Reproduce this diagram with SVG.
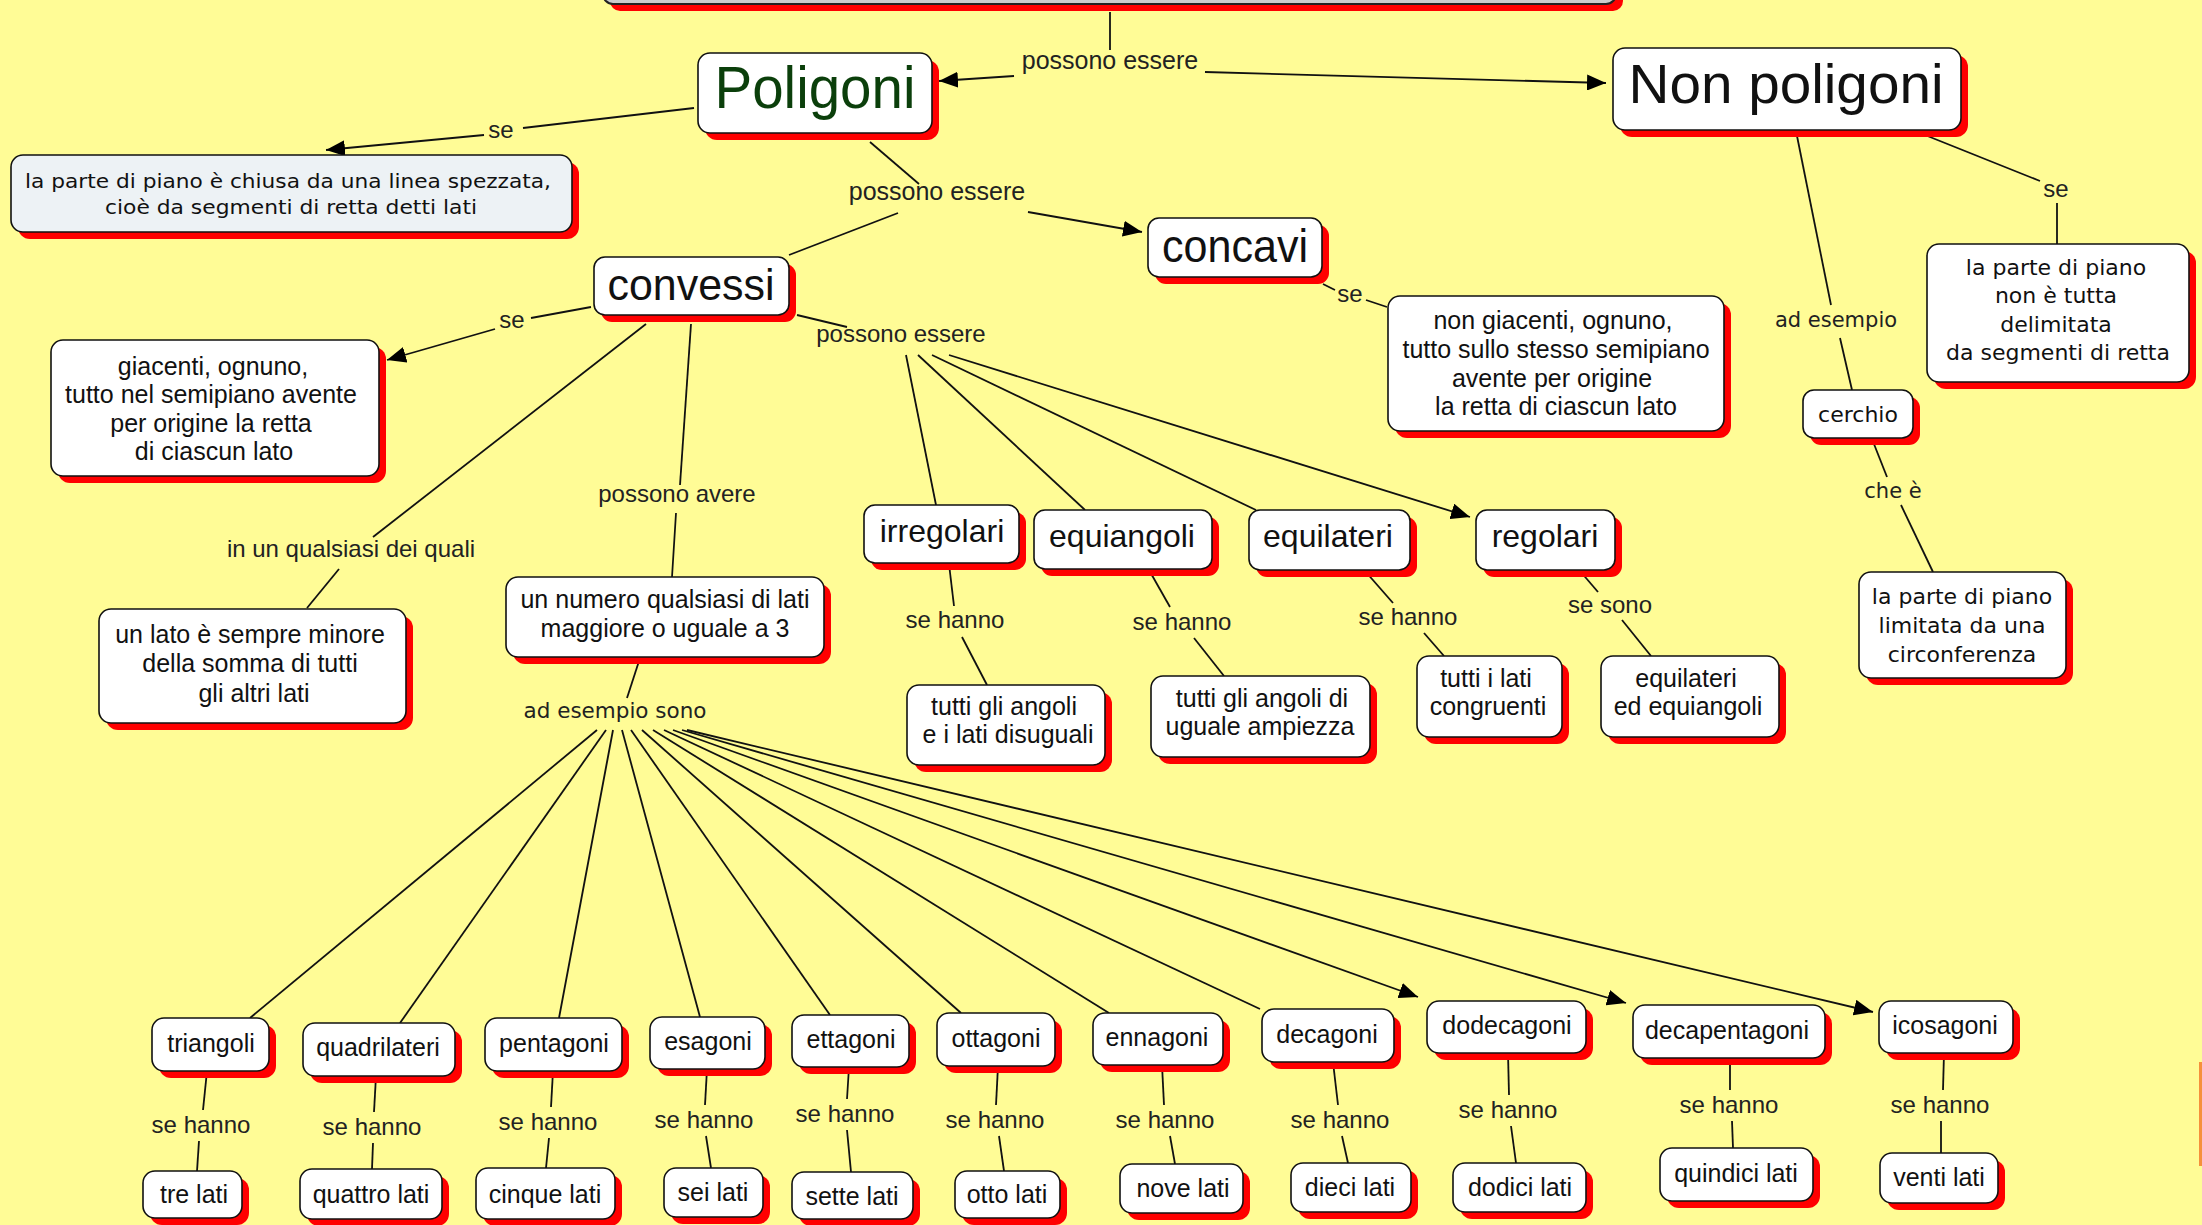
<svg xmlns="http://www.w3.org/2000/svg" width="2202" height="1225" viewBox="0 0 2202 1225">
  <defs>
    <marker id="arrow" markerUnits="userSpaceOnUse" markerWidth="19" markerHeight="16" viewBox="0 0 10 10" refX="10" refY="5" orient="auto" preserveAspectRatio="none">
      <path d="M0,0 L10,5 L0,10 z" fill="#000"/>
    </marker>
    <linearGradient id="topfill" x1="0" y1="0" x2="0" y2="1">
      <stop offset="0" stop-color="#ffffff"/>
      <stop offset="1" stop-color="#c9c9c9"/>
    </linearGradient>
  </defs>
  <style>
    .sh { fill: #ff0000; }
    .bx { fill: #ffffff; stroke: #111; stroke-width: 1.6; }
    .t { font-family: "Liberation Sans", Arial, sans-serif; font-size: 25px; fill: #111; text-anchor: middle; }
    .v { font-family: "DejaVu Sans", Verdana, sans-serif; font-size: 22px; fill: #111; text-anchor: middle; }
    .lb { font-family: "Liberation Sans", Arial, sans-serif; font-size: 24px; fill: #222; text-anchor: middle; }
    .lv { font-family: "DejaVu Sans", Verdana, sans-serif; font-size: 21px; fill: #222; text-anchor: middle; }
    .c line, .c path { stroke: #111; stroke-width: 1.8; fill: none; }
    .a { marker-end: url(#arrow); }
  </style>

  <rect width="2202" height="1225" fill="#fffc96"/>
  <rect x="2199" y="1062" width="3" height="104" fill="#f6903a"/>

  <!-- connectors -->
  <g id="connectors" class="c">
    <line x1="1110" y1="12" x2="1110" y2="50"/>
    <line class="a" x1="1014" y1="76" x2="939" y2="81"/>
    <line class="a" x1="1205" y1="72" x2="1606" y2="83"/>

    <line x1="694" y1="108" x2="523" y2="128"/>
    <line class="a" x1="484" y1="135" x2="326" y2="150"/>

    <line x1="870" y1="142" x2="919" y2="184"/>
    <line x1="898" y1="213" x2="789" y2="255"/>
    <line class="a" x1="1028" y1="212" x2="1142" y2="232"/>

    <line x1="1323" y1="284" x2="1335" y2="290"/>
    <line x1="1366" y1="300" x2="1387" y2="307"/>

    <line x1="591" y1="307" x2="531" y2="318"/>
    <line class="a" x1="495" y1="329" x2="387" y2="360"/>

    <line x1="646" y1="324" x2="373" y2="537"/>
    <line x1="339" y1="569" x2="307" y2="608"/>

    <line x1="691" y1="324" x2="680" y2="485"/>
    <line x1="676" y1="513" x2="672" y2="577"/>

    <line x1="797" y1="315" x2="847" y2="327"/>
    <line x1="906" y1="355" x2="936" y2="505"/>
    <line x1="918" y1="355" x2="1085" y2="510"/>
    <line x1="932" y1="355" x2="1256" y2="510"/>
    <line class="a" x1="949" y1="355" x2="1470" y2="517"/>

    <line x1="949" y1="564" x2="954" y2="606"/>
    <line x1="962" y1="637" x2="987" y2="685"/>
    <line x1="1149" y1="570" x2="1170" y2="607"/>
    <line x1="1194" y1="638" x2="1224" y2="676"/>
    <line x1="1365" y1="571" x2="1393" y2="603"/>
    <line x1="1424" y1="633" x2="1444" y2="656"/>
    <line x1="1580" y1="571" x2="1598" y2="592"/>
    <line x1="1622" y1="620" x2="1651" y2="656"/>

    <line x1="1915" y1="131" x2="2040" y2="181"/>
    <line x1="2057" y1="203" x2="2057" y2="244"/>
    <line x1="1796" y1="131" x2="1831" y2="305"/>
    <line x1="1840" y1="338" x2="1852" y2="390"/>
    <line x1="1872" y1="439" x2="1887" y2="477"/>
    <line x1="1901" y1="505" x2="1933" y2="572"/>

    <line x1="640" y1="658" x2="627" y2="698"/>

    <!-- fan towards the polygon families -->
    <line x1="597" y1="730" x2="250" y2="1018"/>
    <line x1="606" y1="730" x2="400" y2="1023"/>
    <line x1="613" y1="730" x2="559" y2="1018"/>
    <line x1="622" y1="730" x2="700" y2="1017"/>
    <line x1="631" y1="730" x2="830" y2="1015"/>
    <line x1="642" y1="730" x2="961" y2="1013"/>
    <line x1="653" y1="730" x2="1109" y2="1013"/>
    <line x1="664" y1="730" x2="1260" y2="1009"/>
    <line class="a" x1="673" y1="730" x2="1418" y2="997"/>
    <line class="a" x1="682" y1="730" x2="1626" y2="1003"/>
    <line class="a" x1="687" y1="730" x2="1873" y2="1012"/>

    <!-- "se hanno" links to side counts -->
    <line x1="207" y1="1071" x2="203" y2="1110"/>
    <line x1="199" y1="1141" x2="197" y2="1171"/>
    <line x1="376" y1="1076" x2="374" y2="1112"/>
    <line x1="373" y1="1143" x2="372" y2="1169"/>
    <line x1="553" y1="1071" x2="551" y2="1107"/>
    <line x1="549" y1="1138" x2="546" y2="1168"/>
    <line x1="707" y1="1069" x2="705" y2="1105"/>
    <line x1="706" y1="1136" x2="711" y2="1168"/>
    <line x1="849" y1="1067" x2="847" y2="1099"/>
    <line x1="847" y1="1130" x2="851" y2="1172"/>
    <line x1="998" y1="1066" x2="996" y2="1105"/>
    <line x1="999" y1="1136" x2="1004" y2="1171"/>
    <line x1="1162" y1="1065" x2="1164" y2="1105"/>
    <line x1="1170" y1="1136" x2="1175" y2="1164"/>
    <line x1="1333" y1="1062" x2="1338" y2="1105"/>
    <line x1="1342" y1="1136" x2="1348" y2="1163"/>
    <line x1="1508" y1="1053" x2="1509" y2="1095"/>
    <line x1="1511" y1="1126" x2="1516" y2="1163"/>
    <line x1="1730" y1="1058" x2="1730" y2="1090"/>
    <line x1="1732" y1="1121" x2="1733" y2="1148"/>
    <line x1="1944" y1="1053" x2="1943" y2="1090"/>
    <line x1="1941" y1="1121" x2="1941" y2="1153"/>
  </g>

  <!-- connector labels -->
  <g id="labels">
    <text class="lb" x="1110" y="69" style="font-size:25px">possono essere</text>
    <text class="lb" x="501" y="138">se</text>
    <text class="lb" x="937" y="200" style="font-size:25px">possono essere</text>
    <text class="lb" x="1350" y="302">se</text>
    <text class="lb" x="512" y="328">se</text>
    <text class="lb" x="901" y="342">possono essere</text>
    <text class="lb" x="351" y="557">in un qualsiasi dei quali</text>
    <text class="lb" x="677" y="502">possono avere</text>
    <text class="lv" x="615" y="718" textLength="183" lengthAdjust="spacingAndGlyphs">ad esempio sono</text>
    <text class="lb" x="955" y="628">se hanno</text>
    <text class="lb" x="1182" y="630">se hanno</text>
    <text class="lb" x="1408" y="625">se hanno</text>
    <text class="lb" x="1610" y="613">se sono</text>
    <text class="lb" x="2056" y="197">se</text>
    <text class="lv" x="1836" y="327">ad esempio</text>
    <text class="lv" x="1893" y="498">che è</text>
    <text class="lb" x="201" y="1133">se hanno</text>
    <text class="lb" x="372" y="1135">se hanno</text>
    <text class="lb" x="548" y="1130">se hanno</text>
    <text class="lb" x="704" y="1128">se hanno</text>
    <text class="lb" x="845" y="1122">se hanno</text>
    <text class="lb" x="995" y="1128">se hanno</text>
    <text class="lb" x="1165" y="1128">se hanno</text>
    <text class="lb" x="1340" y="1128">se hanno</text>
    <text class="lb" x="1508" y="1118">se hanno</text>
    <text class="lb" x="1729" y="1113">se hanno</text>
    <text class="lb" x="1940" y="1113">se hanno</text>
  </g>

  <!-- nodes -->
  <g id="n-top">
    <rect class="sh" x="610" y="-53" width="1013" height="64" rx="10"/>
    <rect x="603" y="-60" width="1013" height="64" rx="10" fill="url(#topfill)" stroke="#222" stroke-width="2"/>
  </g>

  <g id="n-poligoni">
    <rect class="sh" x="705" y="60" width="234" height="80" rx="12"/>
    <rect class="bx" x="698" y="53" width="234" height="80" rx="12"/>
    <text class="t" x="815" y="108" style="font-size:60px;fill:#0b3f0b" textLength="201" lengthAdjust="spacingAndGlyphs">Poligoni</text>
  </g>

  <g id="n-nonpoligoni">
    <rect class="sh" x="1620" y="55" width="348" height="82" rx="12"/>
    <rect class="bx" x="1613" y="48" width="348" height="82" rx="12"/>
    <text class="t" x="1786" y="103" style="font-size:56px" textLength="315" lengthAdjust="spacingAndGlyphs">Non poligoni</text>
  </g>

  <g id="n-def-poligoni">
    <rect class="sh" x="18" y="162" width="561" height="77" rx="12"/>
    <rect class="bx" x="11" y="155" width="561" height="77" rx="12" style="fill:#edf2f5"/>
    <text class="v" x="288" y="188" style="font-size:19px" textLength="526" lengthAdjust="spacingAndGlyphs">la parte di piano è chiusa da una linea spezzata,</text>
    <text class="v" x="291" y="214" style="font-size:19px" textLength="372" lengthAdjust="spacingAndGlyphs">cioè da segmenti di retta detti lati</text>
  </g>

  <g id="n-concavi">
    <rect class="sh" x="1155" y="225" width="174" height="59" rx="11"/>
    <rect class="bx" x="1148" y="218" width="174" height="59" rx="11"/>
    <text class="t" x="1235" y="262" style="font-size:46px" textLength="146" lengthAdjust="spacingAndGlyphs">concavi</text>
  </g>

  <g id="n-convessi">
    <rect class="sh" x="601" y="264" width="195" height="58" rx="11"/>
    <rect class="bx" x="594" y="257" width="195" height="58" rx="11"/>
    <text class="t" x="691" y="300" style="font-size:44px" textLength="167" lengthAdjust="spacingAndGlyphs">convessi</text>
  </g>

  <g id="n-giacenti">
    <rect class="sh" x="58" y="347" width="328" height="136" rx="12"/>
    <rect class="bx" x="51" y="340" width="328" height="136" rx="12"/>
    <text class="t" x="213" y="375">giacenti, ognuno,</text>
    <text class="t" x="211" y="403">tutto nel semipiano avente</text>
    <text class="t" x="211" y="432">per origine la retta</text>
    <text class="t" x="214" y="460">di ciascun lato</text>
  </g>

  <g id="n-nongiacenti">
    <rect class="sh" x="1395" y="303" width="336" height="135" rx="12"/>
    <rect class="bx" x="1388" y="296" width="336" height="135" rx="12"/>
    <text class="t" x="1553" y="329">non giacenti, ognuno,</text>
    <text class="t" x="1556" y="358">tutto sullo stesso semipiano</text>
    <text class="t" x="1552" y="387">avente per origine</text>
    <text class="t" x="1556" y="415">la retta di ciascun lato</text>
  </g>

  <g id="n-nontutta">
    <rect class="sh" x="1934" y="251" width="262" height="138" rx="12"/>
    <rect class="bx" x="1927" y="244" width="262" height="138" rx="12"/>
    <text class="v" x="2056" y="275">la parte di piano</text>
    <text class="v" x="2056" y="303">non è tutta</text>
    <text class="v" x="2056" y="332">delimitata</text>
    <text class="v" x="2058" y="360">da segmenti di retta</text>
  </g>

  <g id="n-cerchio">
    <rect class="sh" x="1810" y="397" width="110" height="48" rx="11"/>
    <rect class="bx" x="1803" y="390" width="110" height="48" rx="11"/>
    <text class="v" x="1858" y="422">cerchio</text>
  </g>

  <g id="n-circonferenza">
    <rect class="sh" x="1866" y="579" width="207" height="106" rx="12"/>
    <rect class="bx" x="1859" y="572" width="207" height="106" rx="12"/>
    <text class="v" x="1962" y="604">la parte di piano</text>
    <text class="v" x="1962" y="633">limitata da una</text>
    <text class="v" x="1962" y="662">circonferenza</text>
  </g>

  <g id="n-irregolari">
    <rect class="sh" x="871" y="512" width="155" height="58" rx="11"/>
    <rect class="bx" x="864" y="505" width="155" height="58" rx="11"/>
    <text class="t" x="942" y="542" style="font-size:32px">irregolari</text>
  </g>

  <g id="n-equiangoli">
    <rect class="sh" x="1041" y="517" width="178" height="59" rx="11"/>
    <rect class="bx" x="1034" y="510" width="178" height="59" rx="11"/>
    <text class="t" x="1122" y="547" style="font-size:32px">equiangoli</text>
  </g>

  <g id="n-equilateri">
    <rect class="sh" x="1256" y="517" width="161" height="60" rx="11"/>
    <rect class="bx" x="1249" y="510" width="161" height="60" rx="11"/>
    <text class="t" x="1328" y="547" style="font-size:32px">equilateri</text>
  </g>

  <g id="n-regolari">
    <rect class="sh" x="1483" y="517" width="139" height="60" rx="11"/>
    <rect class="bx" x="1476" y="510" width="139" height="60" rx="11"/>
    <text class="t" x="1545" y="547" style="font-size:32px">regolari</text>
  </g>

  <g id="n-unlato">
    <rect class="sh" x="106" y="616" width="307" height="114" rx="12"/>
    <rect class="bx" x="99" y="609" width="307" height="114" rx="12"/>
    <text class="t" x="250" y="643">un lato è sempre minore</text>
    <text class="t" x="250" y="672">della somma di tutti</text>
    <text class="t" x="254" y="702">gli altri lati</text>
  </g>

  <g id="n-unnumero">
    <rect class="sh" x="513" y="584" width="318" height="80" rx="12"/>
    <rect class="bx" x="506" y="577" width="318" height="80" rx="12"/>
    <text class="t" x="665" y="608">un numero qualsiasi di lati</text>
    <text class="t" x="665" y="637">maggiore o uguale a 3</text>
  </g>

  <g id="n-disuguali">
    <rect class="sh" x="914" y="692" width="198" height="80" rx="12"/>
    <rect class="bx" x="907" y="685" width="198" height="80" rx="12"/>
    <text class="t" x="1004" y="715">tutti gli angoli</text>
    <text class="t" x="1008" y="743">e i lati disuguali</text>
  </g>

  <g id="n-ampiezza">
    <rect class="sh" x="1158" y="683" width="219" height="81" rx="12"/>
    <rect class="bx" x="1151" y="676" width="219" height="81" rx="12"/>
    <text class="t" x="1262" y="707">tutti gli angoli di</text>
    <text class="t" x="1260" y="735">uguale ampiezza</text>
  </g>

  <g id="n-congruenti">
    <rect class="sh" x="1424" y="663" width="145" height="81" rx="12"/>
    <rect class="bx" x="1417" y="656" width="145" height="81" rx="12"/>
    <text class="t" x="1486" y="687">tutti i lati</text>
    <text class="t" x="1488" y="715">congruenti</text>
  </g>

  <g id="n-equieq">
    <rect class="sh" x="1608" y="663" width="178" height="81" rx="12"/>
    <rect class="bx" x="1601" y="656" width="178" height="81" rx="12"/>
    <text class="t" x="1686" y="687">equilateri</text>
    <text class="t" x="1688" y="715">ed equiangoli</text>
  </g>

  <!-- polygon families -->
  <g id="n-triangoli"><rect class="sh" x="159" y="1025" width="117" height="53" rx="12"/><rect class="bx" x="152" y="1018" width="117" height="53" rx="12"/><text class="t" x="211" y="1052">triangoli</text></g>
  <g id="n-quadrilateri"><rect class="sh" x="310" y="1030" width="152" height="53" rx="12"/><rect class="bx" x="303" y="1023" width="152" height="53" rx="12"/><text class="t" x="378" y="1056">quadrilateri</text></g>
  <g id="n-pentagoni"><rect class="sh" x="492" y="1025" width="137" height="53" rx="12"/><rect class="bx" x="485" y="1018" width="137" height="53" rx="12"/><text class="t" x="554" y="1052">pentagoni</text></g>
  <g id="n-esagoni"><rect class="sh" x="657" y="1024" width="115" height="52" rx="12"/><rect class="bx" x="650" y="1017" width="115" height="52" rx="12"/><text class="t" x="708" y="1050">esagoni</text></g>
  <g id="n-ettagoni"><rect class="sh" x="799" y="1022" width="117" height="52" rx="12"/><rect class="bx" x="792" y="1015" width="117" height="52" rx="12"/><text class="t" x="851" y="1048">ettagoni</text></g>
  <g id="n-ottagoni"><rect class="sh" x="944" y="1020" width="118" height="53" rx="12"/><rect class="bx" x="937" y="1013" width="118" height="53" rx="12"/><text class="t" x="996" y="1047">ottagoni</text></g>
  <g id="n-ennagoni"><rect class="sh" x="1100" y="1020" width="130" height="52" rx="12"/><rect class="bx" x="1093" y="1013" width="130" height="52" rx="12"/><text class="t" x="1157" y="1046">ennagoni</text></g>
  <g id="n-decagoni"><rect class="sh" x="1269" y="1016" width="132" height="53" rx="12"/><rect class="bx" x="1262" y="1009" width="132" height="53" rx="12"/><text class="t" x="1327" y="1043">decagoni</text></g>
  <g id="n-dodecagoni"><rect class="sh" x="1434" y="1008" width="159" height="52" rx="12"/><rect class="bx" x="1427" y="1001" width="159" height="52" rx="12"/><text class="t" x="1507" y="1034">dodecagoni</text></g>
  <g id="n-decapentagoni"><rect class="sh" x="1640" y="1012" width="192" height="53" rx="12"/><rect class="bx" x="1633" y="1005" width="192" height="53" rx="12"/><text class="t" x="1727" y="1039">decapentagoni</text></g>
  <g id="n-icosagoni"><rect class="sh" x="1886" y="1008" width="134" height="52" rx="12"/><rect class="bx" x="1879" y="1001" width="134" height="52" rx="12"/><text class="t" x="1945" y="1034">icosagoni</text></g>

  <!-- number of sides -->
  <g id="n-tre"><rect class="sh" x="150" y="1178" width="99" height="47" rx="12"/><rect class="bx" x="143" y="1171" width="99" height="47" rx="12"/><text class="t" x="194" y="1203">tre lati</text></g>
  <g id="n-quattro"><rect class="sh" x="307" y="1176" width="142" height="50" rx="12"/><rect class="bx" x="300" y="1169" width="142" height="50" rx="12"/><text class="t" x="371" y="1203">quattro lati</text></g>
  <g id="n-cinque"><rect class="sh" x="483" y="1175" width="139" height="51" rx="12"/><rect class="bx" x="476" y="1168" width="139" height="51" rx="12"/><text class="t" x="545" y="1203">cinque lati</text></g>
  <g id="n-sei"><rect class="sh" x="671" y="1175" width="99" height="49" rx="12"/><rect class="bx" x="664" y="1168" width="99" height="49" rx="12"/><text class="t" x="713" y="1201">sei lati</text></g>
  <g id="n-sette"><rect class="sh" x="799" y="1179" width="121" height="47" rx="12"/><rect class="bx" x="792" y="1172" width="121" height="47" rx="12"/><text class="t" x="852" y="1205">sette lati</text></g>
  <g id="n-otto"><rect class="sh" x="962" y="1178" width="105" height="47" rx="12"/><rect class="bx" x="955" y="1171" width="105" height="47" rx="12"/><text class="t" x="1007" y="1203">otto lati</text></g>
  <g id="n-nove"><rect class="sh" x="1127" y="1171" width="123" height="49" rx="12"/><rect class="bx" x="1120" y="1164" width="123" height="49" rx="12"/><text class="t" x="1183" y="1197">nove lati</text></g>
  <g id="n-dieci"><rect class="sh" x="1298" y="1170" width="120" height="49" rx="12"/><rect class="bx" x="1291" y="1163" width="120" height="49" rx="12"/><text class="t" x="1350" y="1196">dieci lati</text></g>
  <g id="n-dodici"><rect class="sh" x="1460" y="1170" width="133" height="49" rx="12"/><rect class="bx" x="1453" y="1163" width="133" height="49" rx="12"/><text class="t" x="1520" y="1196">dodici lati</text></g>
  <g id="n-quindici"><rect class="sh" x="1667" y="1155" width="153" height="53" rx="12"/><rect class="bx" x="1660" y="1148" width="153" height="53" rx="12"/><text class="t" x="1736" y="1182">quindici lati</text></g>
  <g id="n-venti"><rect class="sh" x="1887" y="1160" width="118" height="50" rx="12"/><rect class="bx" x="1880" y="1153" width="118" height="50" rx="12"/><text class="t" x="1939" y="1186">venti lati</text></g>
</svg>
